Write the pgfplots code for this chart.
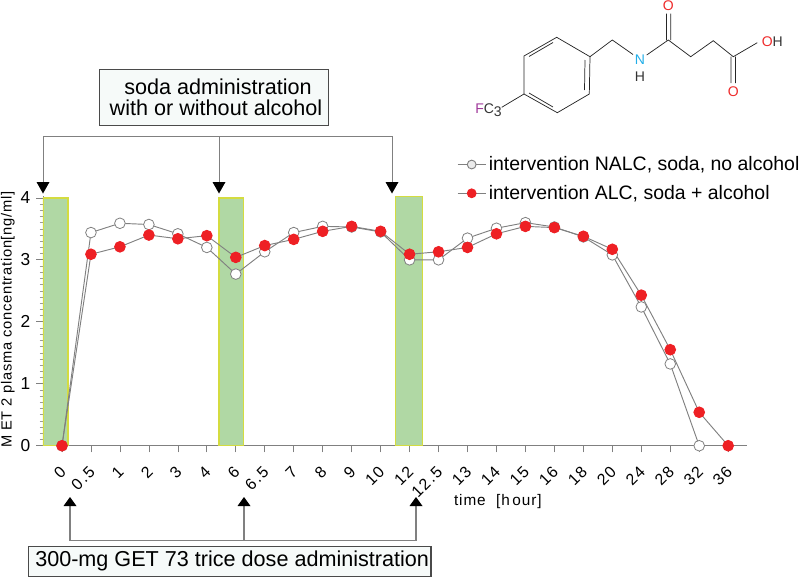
\documentclass[border=0pt]{standalone}
\usepackage{pgfplots}
\pgfplotsset{compat=1.18}
\usepackage{fontspec}
\setmainfont{Liberation Sans}
\definecolor{barg}{HTML}{B0D8A4}
\definecolor{bare}{HTML}{D4DC40}
\definecolor{redm}{HTML}{EE2024}
\definecolor{lg}{HTML}{808080}
\definecolor{boxf}{HTML}{F6FAF9}
\definecolor{boxd}{HTML}{4A4A4A}
\definecolor{oxy}{HTML}{EE2A2A}
\definecolor{nit}{HTML}{22AEE8}
\definecolor{flu}{HTML}{A0399A}
\newcommand{\fs}[1]{\fontsize{#1}{#1}\selectfont}
\pgfplotstableread{
idx nalc
0 0
1 3.44
2 3.59
3 3.57
4 3.42
5 3.20
6 2.77
7 3.13
8 3.44
9 3.54
10 3.53
11 3.45
12 3.00
13 3.00
14 3.35
15 3.51
16 3.60
17 3.53
18 3.37
19 3.08
20 2.24
21 1.32
22 0
}\datanalc
\pgfplotstableread{
idx alc
0 0
1 3.09
2 3.21
3 3.40
4 3.34
5 3.39
6 3.04
7 3.23
8 3.33
9 3.46
10 3.54
11 3.46
12 3.09
13 3.13
14 3.20
15 3.42
16 3.54
17 3.52
18 3.38
19 3.17
20 2.43
21 1.55
22 0.54
23 0
}\dataalc
\begin{document}
\begin{tikzpicture}
\useasboundingbox (0,0) rectangle (600pt,-433.5pt);
\begin{axis}[
  at={(32.25pt,-334.3pt)}, anchor=south west,
  scale only axis, width=528pt, height=187.3pt,
  xmin=-0.656, xmax=23.65, ymin=0, ymax=4.03,
  axis x line*=bottom, axis y line*=left,
  axis line style={lg,line width=0.6pt},
  tick align=outside,
  major tick length=5pt, minor tick length=2.6pt,
  every tick/.style={lg,line width=0.5pt},
  every minor tick/.style={lg!80,line width=0.4pt},
  xtick={0,...,23},
  xticklabels={0,0.5,1,2,3,4,6,6.5,7,8,9,10,12,12.5,13,14,15,16,18,20,24,28,32,36},
  xticklabel style={xshift=-2.25pt,yshift=-8pt,rotate=45,anchor=north east,font=\fs{12}\addfontfeature{LetterSpace=10},inner sep=1pt},
  ytick={0,1,2,3,4}, minor y tick num=9,
  /pgf/number format/assume math mode=true,
  yticklabel style={font=\fs{13},xshift=-1pt},
  xlabel={time\ \ [h\,our]},
  xlabel style={font=\fs{11.5}\addfontfeature{LetterSpace=6},at={(axis description cs:0.646,-0.222)},anchor=center},
  ylabel={M ET 2 plasma concentration[ng/ml]},
  ylabel style={font=\fs{11}\addfontfeature{LetterSpace=5},at={(axis description cs:-0.05,0.505)},anchor=center},
  legend style={at={(0.588,1.17)},anchor=north west,draw=none,fill=none,font=\fs{14.6},
    row sep=5.5pt,inner sep=0pt},
  legend cell align=left,
  legend image code/.code={\draw[mark repeat=2,mark phase=2,#1] plot coordinates {(0pt,0pt)(10.5pt,0pt)(21pt,0pt)};},
]
\addplot[fill=barg,draw=bare,line width=1.2pt,forget plot] coordinates {(-0.646,0)(-0.646,4)(0.197,4)(0.197,0)(-0.646,0)};
\addplot[fill=barg,draw=bare,line width=1.2pt,forget plot] coordinates {(5.43,0)(5.43,4)(6.27,4)(6.27,0)(5.43,0)};
\addplot[fill=barg,draw=bare,line width=1.2pt,forget plot] coordinates {(11.52,0)(11.52,4.03)(12.44,4.03)(12.44,0)(11.52,0)};
\addplot[lg,line width=0.7pt,mark=*,mark size=4pt,mark options={fill=white,draw=lg,line width=0.6pt},
  legend image post style={mark size=3.3pt,mark options={fill=black!8,draw=lg}}] table[x=idx,y=nalc] {\datanalc};
\addlegendentry{intervention NALC, soda, no alcohol}
\addplot[lg,line width=0.7pt,mark=*,mark size=4pt,mark options={fill=redm,draw=redm},
  legend image post style={mark size=3.3pt}] table[x=idx,y=alc] {\dataalc};
\addlegendentry{intervention ALC, soda + alcohol}
\end{axis}
\begin{scope}[x=0.75pt,y=-0.75pt]
% top box and arrows
\draw[lg,line width=0.7pt] (43,136) -- (392,136);
\foreach \x in {43,219,392} {
  \draw[lg,line width=0.7pt] (\x,136) -- (\x,184);
  \fill[black] (\x-6.5,182) -- (\x+6.5,182) -- (\x,193.5) -- cycle;
}
\draw[boxd,fill=boxf,line width=0.8pt] (99.5,69.5) rectangle (328.5,125.5);
\node[font=\fs{16.2},anchor=center] at (218,86.5) {soda administration};
\node[font=\fs{16.2},anchor=center] at (216,108) {with or without alcohol};
% bottom box and arrows
\draw[lg,line width=0.9pt] (70,540.5) -- (416,540.5);
\foreach \x in {70,244,416} {
  \draw[lg,line width=0.9pt] (\x,540.5) -- (\x,504);
  \fill[black] (\x-6.5,506) -- (\x+6.5,506) -- (\x,497) -- cycle;
}
\draw[boxd,fill=boxf,line width=0.8pt] (28.5,546.5) rectangle (431,576.5);
\node[font=\fs{16.2},anchor=west,inner sep=0pt] at (35,561) {300-mg GET 73 trice dose administration};
% molecule
\draw[black!85,line width=0.55pt]
  (556.7,37.3) -- (590,56.7) -- (589.3,94) -- (557.3,112.7) -- (524,94) -- (524,56) -- cycle;
\draw[black!85,line width=0.55pt] (553,42.5) -- (529,56.5) (585,60) -- (584.5,90) (553,107) -- (529,93);
\draw[black!85,line width=0.55pt] (524,94) -- (501.7,107.3)
  (590,56.7) -- (612.3,40) -- (633,54.5)
  (646.7,55) -- (668.3,40) -- (690.7,56.7) -- (713.3,40.7) -- (733.3,56.7) -- (757.3,42.7)
  (666.5,40) -- (666.5,13.5) (670.8,40) -- (670.8,13.5)
  (731,56.7) -- (731,83) (735.5,56.7) -- (735.5,83);
\node[font=\fs{10.5},text=nit,inner sep=0pt] at (640,60) {N};
\node[font=\fs{10.5},text=black!80,inner sep=0pt] at (640,76.7) {H};
\node[font=\fs{10.5},text=oxy,inner sep=0pt] at (668.3,5.5) {O};
\node[font=\fs{10.5},text=oxy,inner sep=0pt] at (733.3,92) {O};
\node[font=\fs{10.5},inner sep=0pt,anchor=west] at (761.5,42) {\textcolor{oxy}{O}\textcolor{black!80}{H}};
\node[font=\fs{10.5},inner sep=0pt,anchor=west] at (475,110) {\textcolor{flu}{F}\textcolor{black!80}{C}\raisebox{-2pt}{\textcolor{black!80}{3}}};
\end{scope}
\end{tikzpicture}
\end{document}
